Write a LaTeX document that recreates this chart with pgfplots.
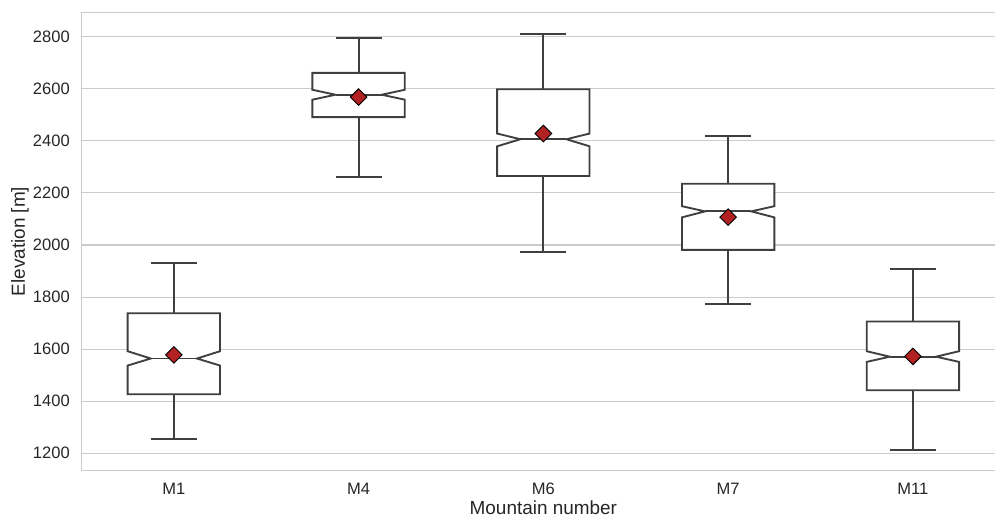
\documentclass[border=0pt]{standalone}
\usepackage{fontspec}
\setmainfont{Liberation Sans}
\usepackage{pgfplots}
\pgfplotsset{compat=1.18}

\definecolor{gridgray}{HTML}{CCCCCC}
\definecolor{boxgray}{HTML}{3F3F3F}
\definecolor{txt}{HTML}{262626}
\definecolor{meanred}{HTML}{B22222}

% Notched box: #1 position, #2 lower whisker, #3 Q1, #4 notch low,
% #5 median, #6 notch high, #7 Q3, #8 upper whisker, #9 mean
\newcommand{\notchbox}[9]{%
  \pgfmathsetmacro\bxL{#1-0.25}%
  \pgfmathsetmacro\bxR{#1+0.25}%
  \pgfmathsetmacro\ntL{#1-0.125}%
  \pgfmathsetmacro\ntR{#1+0.125}%
  \addplot[boxline] coordinates {(#1,#2) (#1,#3)};
  \addplot[boxline] coordinates {(#1,#7) (#1,#8)};
  \addplot[boxline] coordinates {(\ntL,#2) (\ntR,#2)};
  \addplot[boxline] coordinates {(\ntL,#8) (\ntR,#8)};
  \addplot[boxline, fill=white] coordinates {
    (\bxL,#3) (\bxL,#4) (\ntL,#5) (\bxL,#6) (\bxL,#7)
    (\bxR,#7) (\bxR,#6) (\ntR,#5) (\bxR,#4) (\bxR,#3)} -- cycle;
  \addplot[boxline] coordinates {(\ntL,#5) (\ntR,#5)};
  \addplot[only marks, mark=square*, mark size=4.4pt,
    mark options={rotate=45, fill=meanred, draw=black, line width=0.7pt}]
    coordinates {(#1,#9)};
}

\begin{document}
\begin{tikzpicture}
\begin{axis}[
  at={(0,0)}, anchor=south west,
  scale only axis, width=692.8pt, height=343.8pt,
  xmin=-0.5, xmax=4.5, ymin=1133.2, ymax=2893.7,
  xtick={0,1,2,3,4}, xticklabels={M1,M4,M6,M7,M11},
  ytick={1200,1400,...,2800},
  ymajorgrids, grid style={gridgray, line width=0.8pt},
  axis line style={gridgray, line width=0.9pt},
  major tick length=0pt,
  /pgf/number format/assume math mode=true,
  /pgf/number format/1000 sep={},
  tick label style={font=\fontsize{12.4}{14}\selectfont, text=txt},
  xticklabel style={anchor=base, inner sep=0pt, yshift=-18.2pt},
  yticklabel style={anchor=east, inner sep=0pt, xshift=-8.6pt},
  label style={font=\fontsize{14.2}{16}\selectfont, text=txt},
  xlabel={Mountain number},
  xlabel style={at={(rel axis cs:0.5,0)}, anchor=base, yshift=-32.6pt},
  ylabel={Elevation [m]},
  ylabel style={at={(rel axis cs:0,0.5)}, anchor=base, rotate=0, yshift=42.5pt},
  boxline/.style={boxgray, line width=1.4pt, line join=miter},
]
\notchbox{0}{1256}{1427}{1537}{1564}{1592}{1738}{1931}{1578}
\notchbox{1}{2260}{2491}{2558}{2577}{2596}{2661}{2796}{2568}
\notchbox{2}{1974}{2265}{2379}{2406}{2428}{2598}{2810}{2428}
\notchbox{3}{1775}{1981}{2106}{2129}{2149}{2235}{2420}{2107}
\notchbox{4}{1214}{1442}{1551}{1571}{1592}{1706}{1908}{1572}
\end{axis}
\pgfresetboundingbox
\path[use as bounding box] (-61.1pt,-34.7pt) rectangle (685.1pt,353pt);
\end{tikzpicture}
\end{document}
